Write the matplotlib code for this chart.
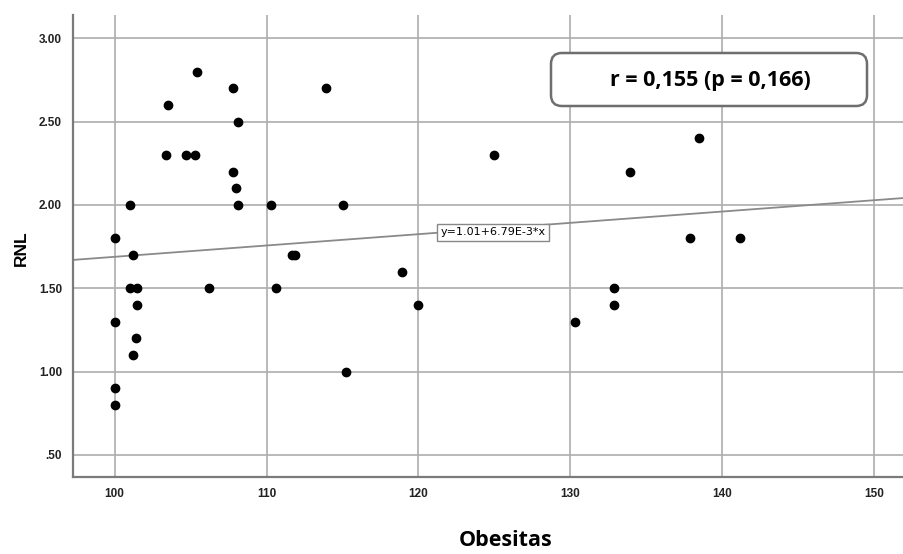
import matplotlib.pyplot as plt
from matplotlib.patches import FancyBboxPatch

# Obesitas vs RNL values
obesitas = [100.0, 100.0, 100.0, 100.0, 101.0, 101.2, 101.0, 101.5, 101.5, 101.4,
            101.2, 103.5, 103.4, 104.7, 105.3, 105.4, 106.2, 107.8, 107.8, 108.0,
            108.1, 108.1, 110.3, 110.6, 111.7, 111.9, 113.9, 115.0, 115.2, 118.9,
            120.0, 125.0, 130.3, 132.9, 132.9, 133.9, 138.5, 137.9, 141.2]
rnl = [1.80, 1.30, 0.90, 0.80, 2.00, 1.70, 1.50, 1.50, 1.40, 1.20,
       1.10, 2.60, 2.30, 2.30, 2.30, 2.80, 1.50, 2.70, 2.20, 2.10,
       2.50, 2.00, 2.00, 1.50, 1.70, 1.70, 2.70, 2.00, 1.00, 1.60,
       1.40, 2.30, 1.30, 1.50, 1.40, 2.20, 2.40, 1.80, 1.80]

fit_intercept = 1.01
fit_slope = 6.79e-3
x_ticks = [100, 110, 120, 130, 140, 150]
y_ticks = [0.5, 1.0, 1.5, 2.0, 2.5, 3.0]
y_tick_labels = [".50", "1.00", "1.50", "2.00", "2.50", "3.00"]

fig = plt.figure(figsize=(9.04, 5.54), dpi=100)
ax = fig.add_axes([0.081, 0.139, 0.919, 0.834])

xlim = (97.27, 151.97)
ylim = (0.368, 3.14)
ax.set_xlim(*xlim)
ax.set_ylim(*ylim)

# grid and frame
ax.set_xticks(x_ticks)
ax.set_yticks(y_ticks)
ax.set_yticklabels(y_tick_labels)
ax.grid(True, color='#adadad', linewidth=1.2)
ax.set_axisbelow(True)
for side in ['top', 'right']:
    ax.spines[side].set_visible(False)
for side in ['left', 'bottom']:
    ax.spines[side].set_color('#7a7a7a')
    ax.spines[side].set_linewidth(1.6)
ax.tick_params(length=0, pad=8, labelsize=8.5, colors='#222222')
for lbl in ax.get_xticklabels() + ax.get_yticklabels():
    lbl.set_fontfamily('Liberation Sans')
    lbl.set_fontweight('bold')

# fit line
ax.plot(list(xlim), [fit_intercept + fit_slope * v for v in xlim],
        color='#8a8a8a', linewidth=1.3, zorder=2)
ax.text(124.9, 1.835, "y=1.01+6.79E-3*x", fontsize=8, family='Liberation Sans Narrow',
        ha='center', va='center', zorder=4,
        bbox=dict(boxstyle='square,pad=0.3', fc='white', ec='#888888', lw=1))

# points
ax.scatter(obesitas, rnl, s=36, color='black', zorder=3)

# correlation box
box = FancyBboxPatch((551 / 904, 1 - 106 / 554), 316 / 904, 53 / 554,
                     boxstyle='round,pad=0,rounding_size=0.012',
                     transform=fig.transFigure, fc='white', ec='#6e6e6e', lw=1.8,
                     zorder=5, mutation_aspect=904 / 554)
fig.patches.append(box)
fig.text(710 / 904, 1 - 80 / 554, "r = 0,155 (p = 0,166)", fontsize=15.5,
         fontweight='bold', family='Open Sans', ha='center', va='center', zorder=6)

fig.text(21 / 904, 1 - 248 / 554, "RNL", fontsize=12.5, fontweight='bold',
         family='Liberation Sans', rotation=90, ha='center', va='center')
fig.text(0.559, 0.025, "Obesitas", fontsize=15.5, fontweight='bold', family='Open Sans',
         ha='center', va='center')

fig.savefig("out.png", dpi=100)
